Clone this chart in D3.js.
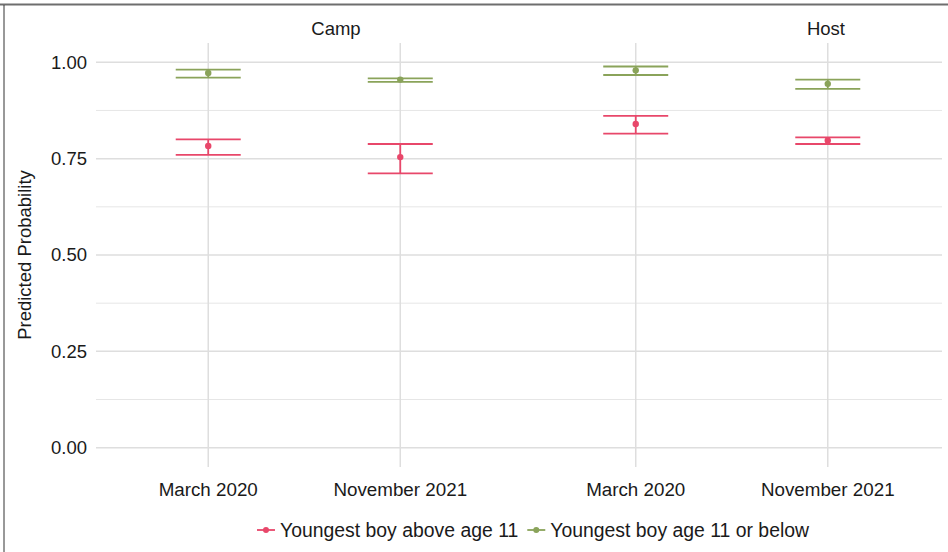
<!DOCTYPE html>
<html>
<head>
    <meta charset="utf-8">
    <title>Predicted Probability</title>
    <script src="https://cdn.jsdelivr.net/npm/d3@7"></script>
    <style>
        body { margin: 0; background: #fff; }
        svg text { font-family: "Liberation Sans", Arial, Helvetica, sans-serif; fill: #1a1a1a; }
    </style>
</head>
<body>
<div id="chart"></div>
<script>
    // data
    const sites = ["Camp", "Host"];
    const periods = ["March 2020", "November 2021"];
    const groups = ["Youngest boy above age 11", "Youngest boy age 11 or below"];
    const colors = ["#e8476a", "#8aa35a"];

    // order: Camp-March 2020, Camp-November 2021, Host-March 2020, Host-November 2021
    const aboveEst  = [0.783, 0.754, 0.840, 0.797];
    const aboveLow  = [0.760, 0.712, 0.815, 0.788];
    const aboveHigh = [0.800, 0.788, 0.861, 0.805];
    const belowEst  = [0.972, 0.955, 0.979, 0.944];
    const belowLow  = [0.960, 0.949, 0.967, 0.931];
    const belowHigh = [0.981, 0.958, 0.989, 0.955];

    const yTicks = [0, 0.25, 0.5, 0.75, 1];
    const yMinor = [0.125, 0.375, 0.625, 0.875];

    const width = 948;
    const height = 552;
    const panelLeft = 96, panelRight = 942, panelTop = 43, panelBottom = 467;

    const svg = d3.select('#chart')
        .append('svg')
        .attr('width', width)
        .attr('height', height);

    // build rows
    const rows = [];
    sites.forEach((s, si) => {
        periods.forEach((p, pi) => {
            const i = si * 2 + pi;
            rows.push({ site: s, period: p, group: 0, est: aboveEst[i], lo: aboveLow[i], hi: aboveHigh[i] });
            rows.push({ site: s, period: p, group: 1, est: belowEst[i], lo: belowLow[i], hi: belowHigh[i] });
        });
    });

    const facet = d3.scaleBand()
        .domain(sites)
        .range([93, 943])
        .paddingInner(0.0117);

    const inner = d3.scalePoint()
        .domain(periods)
        .range([0, facet.bandwidth()])
        .padding(0.6);

    const xPos = (s, p) => facet(s) + inner(p);

    const y = d3.scaleLinear()
        .domain([-0.05, 1.05])
        .range([panelBottom, panelTop]);

    // grid
    const grid = svg.append('g');
    grid.selectAll('.minor')
        .data(yMinor)
        .join('line')
        .attr('x1', panelLeft).attr('x2', panelRight)
        .attr('y1', d => y(d)).attr('y2', d => y(d))
        .attr('stroke', '#e6e6e6')
        .attr('stroke-width', 1);
    grid.selectAll('.major')
        .data(yTicks)
        .join('line')
        .attr('x1', panelLeft).attr('x2', panelRight)
        .attr('y1', d => y(d)).attr('y2', d => y(d))
        .attr('stroke', '#dedede')
        .attr('stroke-width', 1.5);
    const xCats = [];
    sites.forEach(s => periods.forEach(p => xCats.push({ s, p })));
    grid.selectAll('.vmajor')
        .data(xCats)
        .join('line')
        .attr('x1', d => xPos(d.s, d.p)).attr('x2', d => xPos(d.s, d.p))
        .attr('y1', panelTop).attr('y2', panelBottom)
        .attr('stroke', '#dedede')
        .attr('stroke-width', 1.5);

    // y axis labels
    svg.append('g').selectAll('text')
        .data(yTicks)
        .join('text')
        .attr('x', 87)
        .attr('y', d => y(d))
        .attr('dy', '0.35em')
        .attr('text-anchor', 'end')
        .attr('font-size', 18.5)
        .text(d => d3.format('.2f')(d));

    svg.append('text')
        .attr('transform', `translate(31,${(panelTop + panelBottom) / 2}) rotate(-90)`)
        .attr('text-anchor', 'middle')
        .attr('font-size', 18.5)
        .text('Predicted Probability');

    // x axis labels
    svg.append('g').selectAll('text')
        .data(xCats)
        .join('text')
        .attr('x', d => xPos(d.s, d.p))
        .attr('y', 496)
        .attr('text-anchor', 'middle')
        .attr('font-size', 18.8)
        .text(d => d.p);

    // strip labels
    const stripX = { Camp: 336, Host: 826 };
    svg.append('g').selectAll('text')
        .data(sites)
        .join('text')
        .attr('x', d => stripX[d])
        .attr('y', 35)
        .attr('text-anchor', 'middle')
        .attr('font-size', 18.5)
        .text(d => d);

    // error bars
    const half = 32.5;
    const marks = svg.append('g');
    const eb = marks.selectAll('g')
        .data(rows)
        .join('g')
        .attr('stroke', d => colors[d.group])
        .attr('stroke-width', 1.8);
    eb.append('line')
        .attr('x1', d => xPos(d.site, d.period)).attr('x2', d => xPos(d.site, d.period))
        .attr('y1', d => y(d.lo)).attr('y2', d => y(d.hi));
    eb.append('line')
        .attr('x1', d => xPos(d.site, d.period) - half).attr('x2', d => xPos(d.site, d.period) + half)
        .attr('y1', d => y(d.lo)).attr('y2', d => y(d.lo));
    eb.append('line')
        .attr('x1', d => xPos(d.site, d.period) - half).attr('x2', d => xPos(d.site, d.period) + half)
        .attr('y1', d => y(d.hi)).attr('y2', d => y(d.hi));
    marks.selectAll('circle')
        .data(rows)
        .join('circle')
        .attr('cx', d => xPos(d.site, d.period))
        .attr('cy', d => y(d.est))
        .attr('r', 3.2)
        .attr('fill', d => colors[d.group]);

    // legend
    const legend = svg.append('g');
    let lx = 0;
    groups.forEach((g, i) => {
        const item = legend.append('g').attr('transform', `translate(${lx},0)`);
        item.append('line')
            .attr('x1', 0).attr('x2', 18)
            .attr('y1', 0).attr('y2', 0)
            .attr('stroke', colors[i])
            .attr('stroke-width', 1.8);
        item.append('circle')
            .attr('cx', 9).attr('cy', 0).attr('r', 3)
            .attr('fill', colors[i]);
        const t = item.append('text')
            .attr('x', 23)
            .attr('y', 0)
            .attr('dy', '0.35em')
            .attr('font-size', 19.4)
            .text(g);
        lx += 23 + t.node().getComputedTextLength() + 9;
    });
    const legendW = lx - 9;
    legend.attr('transform', `translate(${533 - legendW / 2},530)`);

    // frame of the cropped figure
    svg.append('line')
        .attr('x1', 0).attr('x2', width)
        .attr('y1', 4.5).attr('y2', 4.5)
        .attr('stroke', '#6e6e6e')
        .attr('stroke-width', 2);
    svg.append('line')
        .attr('x1', 4).attr('x2', 4)
        .attr('y1', 5).attr('y2', height)
        .attr('stroke', '#333')
        .attr('stroke-width', 1);
</script>
</body>
</html>
